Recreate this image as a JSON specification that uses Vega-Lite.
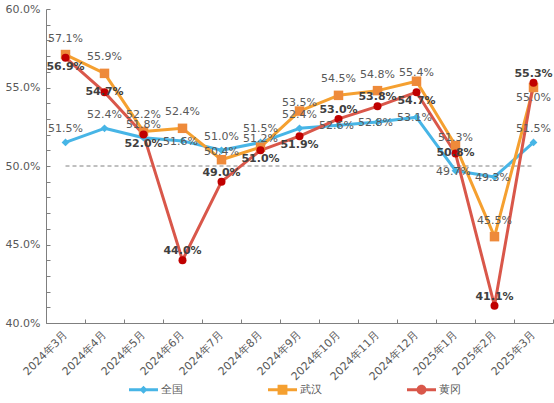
{
  "$schema": "https://vega.github.io/schema/vega-lite/v6.json",
  "autosize": {"type": "none"},
  "padding": {"left": 46, "top": 9, "right": 1, "bottom": 80},
  "width": 507,
  "height": 314,
  "config": {"view": {"stroke": null}, "font": "DejaVu Sans"},
  "data": {"values": [
    {"m": "2024年3月", "s": "全国", "v": 51.5},
    {"m": "2024年4月", "s": "全国", "v": 52.4},
    {"m": "2024年5月", "s": "全国", "v": 51.8},
    {"m": "2024年6月", "s": "全国", "v": 51.6},
    {"m": "2024年7月", "s": "全国", "v": 51.0},
    {"m": "2024年8月", "s": "全国", "v": 51.5},
    {"m": "2024年9月", "s": "全国", "v": 52.4},
    {"m": "2024年10月", "s": "全国", "v": 52.6},
    {"m": "2024年11月", "s": "全国", "v": 52.8},
    {"m": "2024年12月", "s": "全国", "v": 53.1},
    {"m": "2025年1月", "s": "全国", "v": 49.7},
    {"m": "2025年2月", "s": "全国", "v": 49.3},
    {"m": "2025年3月", "s": "全国", "v": 51.5},
    {"m": "2024年3月", "s": "武汉", "v": 57.1},
    {"m": "2024年4月", "s": "武汉", "v": 55.9},
    {"m": "2024年5月", "s": "武汉", "v": 52.2},
    {"m": "2024年6月", "s": "武汉", "v": 52.4},
    {"m": "2024年7月", "s": "武汉", "v": 50.4},
    {"m": "2024年8月", "s": "武汉", "v": 51.2},
    {"m": "2024年9月", "s": "武汉", "v": 53.5},
    {"m": "2024年10月", "s": "武汉", "v": 54.5},
    {"m": "2024年11月", "s": "武汉", "v": 54.8},
    {"m": "2024年12月", "s": "武汉", "v": 55.4},
    {"m": "2025年1月", "s": "武汉", "v": 51.3},
    {"m": "2025年2月", "s": "武汉", "v": 45.5},
    {"m": "2025年3月", "s": "武汉", "v": 55.0},
    {"m": "2024年3月", "s": "黄冈", "v": 56.9},
    {"m": "2024年4月", "s": "黄冈", "v": 54.7},
    {"m": "2024年5月", "s": "黄冈", "v": 52.0},
    {"m": "2024年6月", "s": "黄冈", "v": 44.0},
    {"m": "2024年7月", "s": "黄冈", "v": 49.0},
    {"m": "2024年8月", "s": "黄冈", "v": 51.0},
    {"m": "2024年9月", "s": "黄冈", "v": 51.9},
    {"m": "2024年10月", "s": "黄冈", "v": 53.0},
    {"m": "2024年11月", "s": "黄冈", "v": 53.8},
    {"m": "2024年12月", "s": "黄冈", "v": 54.7},
    {"m": "2025年1月", "s": "黄冈", "v": 50.8},
    {"m": "2025年2月", "s": "黄冈", "v": 41.1},
    {"m": "2025年3月", "s": "黄冈", "v": 55.3}
  ]},
  "transform": [{"calculate": "format(datum.v, '.1f') + '%'", "as": "lab"}],
  "encoding": {
    "x": {
      "field": "m", "type": "nominal", "title": null,
      "scale": {"type": "band", "paddingInner": 0, "paddingOuter": 0,
        "domain": ["2024年3月","2024年4月","2024年5月","2024年6月","2024年7月","2024年8月","2024年9月","2024年10月","2024年11月","2024年12月","2025年1月","2025年2月","2025年3月"]},
      "axis": {"tickBand": "extent", "tickSize": -4, "tickColor": "#7f7f7f", "domainColor": "#7f7f7f",
        "labelAngle": -45, "labelAlign": "right", "labelBaseline": "middle", "labelPadding": 14,
        "labelFontSize": 11, "labelColor": "#595959", "labelFont": "DejaVu Sans"}
    },
    "y": {
      "field": "v", "type": "quantitative", "title": null,
      "scale": {"domain": [40, 60], "nice": false, "zero": false},
      "axis": {"values": [40,41,42,43,44,45,46,47,48,49,50,51,52,53,54,55,56,57,58,59,60],
        "labelExpr": "datum.value % 5 === 0 ? format(datum.value, '.1f') + '%' : ''",
        "grid": false, "tickSize": -4, "tickColor": "#7f7f7f", "domainColor": "#7f7f7f",
        "labelPadding": 10, "labelFontSize": 11, "labelColor": "#595959", "labelFont": "DejaVu Sans"}
    }
  },
  "layer": [
    {
      "data": {"values": [{"ref": 50}]},
      "mark": {"type": "rule", "strokeDash": [4, 3], "color": "#808080", "strokeWidth": 1},
      "encoding": {"x": {"datum": "2024年3月"}, "x2": {"datum": "2025年3月"}, "y": {"field": "ref", "type": "quantitative"}}
    },
    {
      "mark": {"type": "line", "strokeWidth": 3, "strokeJoin": "round"},
      "encoding": {
        "color": {"field": "s", "type": "nominal",
          "scale": {"domain": ["全国","武汉","黄冈"], "range": ["#47b5e6","#f5a030","#d9574a"]},
          "legend": {"orient": "none", "legendX": 83, "legendY": 366, "direction": "horizontal", "title": null,
            "symbolSize": 841, "symbolStrokeWidth": 0, "labelFontSize": 11, "labelColor": "#595959", "labelOffset": 3,
            "columnPadding": 85, "padding": 0,
            "encode": {"symbols": {"update": {
              "shape": {"signal": "datum.value === '全国' ? 'M-1,-0.1H1V0.1H-1Z M0,-0.28L0.28,0L0,0.28L-0.28,0Z' : datum.value === '武汉' ? 'M-1,-0.1H1V0.1H-1Z M-0.34,-0.34H0.34V0.34H-0.34Z' : 'M-1,-0.1H1V0.1H-1Z M-0.34,0A0.34,0.34,0,1,1,0.34,0A0.34,0.34,0,1,1,-0.34,0Z'"},
              "fill": {"signal": "datum.value === '全国' ? '#47b5e6' : datum.value === '武汉' ? '#f5a030' : '#d9574a'"},
              "fillOpacity": {"value": 1},
              "strokeWidth": {"value": 0}
            }}}
          }
        }
      }
    },
    {
      "transform": [{"filter": {"field": "s", "equal": "全国"}}],
      "mark": {"type": "point", "shape": "diamond", "filled": true, "size": 60, "color": "#47b5e6", "opacity": 1}
    },
    {
      "transform": [{"filter": {"field": "s", "equal": "武汉"}}],
      "mark": {"type": "point", "shape": "square", "filled": true, "size": 90, "color": "#ee8a3a", "opacity": 1}
    },
    {
      "transform": [{"filter": {"field": "s", "equal": "黄冈"}}],
      "mark": {"type": "point", "shape": "circle", "filled": true, "size": 64, "color": "#c00000", "opacity": 1}
    },
    {
      "transform": [{"filter": {"and": [{"field": "s", "equal": "全国"}, {"field": "m", "oneOf": ["2024年3月","2024年4月","2024年5月","2024年7月","2024年8月","2024年9月","2025年3月"]}]}}],
      "mark": {"type": "text", "dy": -13, "fontSize": 11, "color": "#595959"},
      "encoding": {"text": {"field": "lab"}}
    },
    {
      "transform": [{"filter": {"and": [{"field": "s", "equal": "全国"}, {"field": "m", "oneOf": ["2024年6月","2024年10月","2024年11月","2024年12月","2025年1月","2025年2月"]}]}}],
      "mark": {"type": "text", "dy": 1, "dx": -2, "fontSize": 11, "color": "#595959"},
      "encoding": {"text": {"field": "lab"}}
    },
    {
      "transform": [{"filter": {"and": [{"field": "s", "equal": "武汉"}, {"field": "m", "oneOf": ["2024年3月","2024年4月","2024年5月","2024年6月","2024年10月","2024年11月","2025年2月"]}]}}],
      "mark": {"type": "text", "dy": -16, "fontSize": 11, "color": "#595959"},
      "encoding": {"text": {"field": "lab"}}
    },
    {
      "transform": [{"filter": {"and": [{"field": "s", "equal": "武汉"}, {"field": "m", "oneOf": ["2024年7月","2024年8月","2024年9月","2024年12月","2025年1月"]}]}}],
      "mark": {"type": "text", "dy": -8, "fontSize": 11, "color": "#595959"},
      "encoding": {"text": {"field": "lab"}}
    },
    {
      "transform": [{"filter": {"and": [{"field": "s", "equal": "武汉"}, {"field": "m", "oneOf": ["2025年3月"]}]}}],
      "mark": {"type": "text", "dy": 10, "fontSize": 11, "color": "#595959"},
      "encoding": {"text": {"field": "lab"}}
    },
    {
      "transform": [{"filter": {"and": [{"field": "s", "equal": "黄冈"}, {"field": "m", "oneOf": ["2024年3月","2024年5月","2024年8月","2024年9月","2024年12月"]}]}}],
      "mark": {"type": "text", "dy": 9, "fontSize": 11, "fontWeight": "bold", "color": "#404040"},
      "encoding": {"text": {"field": "lab"}}
    },
    {
      "transform": [{"filter": {"and": [{"field": "s", "equal": "黄冈"}, {"field": "m", "oneOf": ["2024年4月","2025年1月"]}]}}],
      "mark": {"type": "text", "dy": 0, "fontSize": 11, "fontWeight": "bold", "color": "#404040"},
      "encoding": {"text": {"field": "lab"}}
    },
    {
      "transform": [{"filter": {"and": [{"field": "s", "equal": "黄冈"}, {"field": "m", "oneOf": ["2024年6月","2024年7月","2024年10月","2024年11月","2025年2月","2025年3月"]}]}}],
      "mark": {"type": "text", "dy": -9, "fontSize": 11, "fontWeight": "bold", "color": "#404040"},
      "encoding": {"text": {"field": "lab"}}
    }
  ]
}
